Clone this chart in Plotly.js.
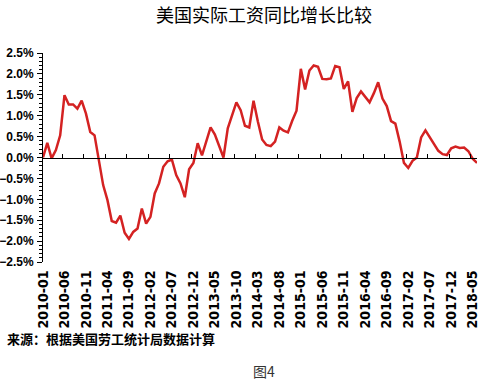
<!DOCTYPE html>
<html>
<head>
<meta charset="utf-8">
<script src="https://cdn.plot.ly/plotly-3.0.1.min.js"></script>
<style>html,body{margin:0;padding:0;background:#fff;}#chart{width:484px;height:384px;}</style>
</head>
<body>
<div id="chart"></div>
<script>
// Categories: monthly, 2010-01 .. 2018-06
const startYear = 2010, endYear = 2018, endMonth = 6;
const months = [];
for (let y = startYear; y <= endYear; y++) {
  for (let m = 1; m <= 12; m++) {
    if (y === endYear && m > endMonth) break;
    months.push(y + '-' + (m < 10 ? '0' + m : m));
  }
}

const wageGrowth = [
  0.00, 0.35, -0.02, 0.18, 0.53, 1.49, 1.27, 1.27, 1.17, 1.36, 1.05, 0.61,
  0.53, -0.06, -0.66, -1.02, -1.52, -1.56, -1.39, -1.80, -1.95, -1.78, -1.70, -1.22,
  -1.58, -1.42, -0.86, -0.62, -0.22, -0.09, -0.05, -0.42, -0.62, -0.95, -0.28, -0.13,
  0.34, 0.05, 0.39, 0.72, 0.55, 0.26, 0.00, 0.70, 1.02, 1.32, 1.13, 0.76,
  0.72, 1.36, 0.86, 0.43, 0.30, 0.27, 0.38, 0.72, 0.64, 0.60, 0.88, 1.12,
  2.12, 1.63, 2.08, 2.20, 2.17, 1.88, 1.87, 1.89, 2.19, 2.16, 1.64, 1.82,
  1.09, 1.42, 1.58, 1.45, 1.32, 1.54, 1.80, 1.41, 1.23, 0.87, 0.81, 0.38,
  -0.13, -0.25, -0.08, 0.00, 0.48, 0.65, 0.48, 0.31, 0.16, 0.08, 0.06, 0.22,
  0.26, 0.23, 0.24, 0.15, -0.03, -0.13
];

const titleText = '美国实际工资同比增长比较';
const sourceText = '来源：根据美国劳工统计局数据计算';
const figText = '图4';

const xFont = {family: "'Liberation Sans Narrow', 'DejaVu Sans Condensed', 'Liberation Sans', sans-serif", size: 14, color: '#000', weight: 'bold'};
const yFont = {family: "'Liberation Sans', Arial, sans-serif", size: 12, color: '#000', weight: 'bold'};
const cjk = "'Noto Sans CJK SC', sans-serif";

const trace = {
  x: months,
  y: wageGrowth,
  type: 'scatter',
  mode: 'lines',
  line: {color: '#d42222', width: 2.5},
  hoverinfo: 'skip'
};

const layout = {
  width: 484, height: 384,
  margin: {l: 43, r: 7, t: 53, b: 122},
  paper_bgcolor: '#fff', plot_bgcolor: '#fff',
  showlegend: false,
  title: {
    text: titleText,
    font: {family: cjk, size: 18, color: '#000'},
    xref: 'container', yref: 'container',
    x: 264/484, xanchor: 'center',
    y: 1 - 16/384, yanchor: 'middle'
  },
  xaxis: {
    type: 'category',
    range: [0, months.length - 1],
    tickmode: 'linear', tick0: 0, dtick: 5,
    tickson: 'boundaries',
    ticks: 'inside', ticklen: 4, tickcolor: '#000', tickwidth: 1,
    anchor: 'free', position: 0.5,
    showline: true, linecolor: '#000', linewidth: 1.5,
    showgrid: false, zeroline: false,
    tickangle: -90,
    ticklabelstandoff: 106,
    tickfont: xFont
  },
  yaxis: {
    range: [-2.5, 2.5],
    tickmode: 'linear', tick0: 0, dtick: 0.5,
    tickformat: '.1f', ticksuffix: '%',
    ticks: 'outside', ticklen: 5, tickcolor: '#000',
    minor: {dtick: 0.1, ticks: 'outside', ticklen: 3, tickcolor: '#000', showgrid: false},
    showline: true, linecolor: '#000', linewidth: 1,
    showgrid: false, zeroline: false,
    ticklabelstandoff: 1,
    tickfont: yFont
  },
  annotations: [
    {text: sourceText, xref: 'paper', yref: 'paper', x: (5-43)/434, y: (262-338)/209,
     xanchor: 'left', yanchor: 'middle', showarrow: false,
     font: {family: cjk, size: 13, color: '#000', weight: 'bold'}},
    {text: figText, xref: 'paper', yref: 'paper', x: (264-43)/434, y: (262-371)/209,
     xanchor: 'center', yanchor: 'middle', showarrow: false,
     font: {family: cjk, size: 14, color: '#333'}}
  ]
};

Plotly.newPlot('chart', [trace], layout, {staticPlot: true, displayModeBar: false});
</script>
</body>
</html>
